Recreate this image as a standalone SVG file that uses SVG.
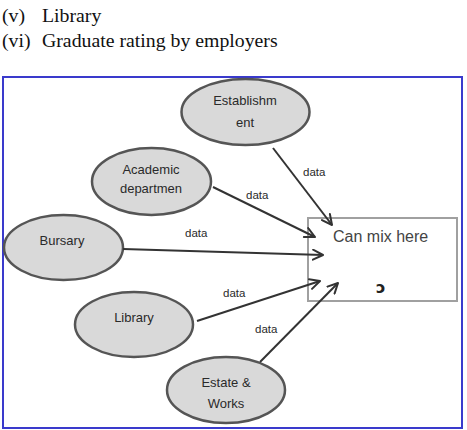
<svg xmlns="http://www.w3.org/2000/svg" width="467" height="430" viewBox="0 0 467 430">
<defs>
<marker id="arr" viewBox="0 0 12 12" refX="11" refY="6" markerWidth="12" markerHeight="12" markerUnits="userSpaceOnUse" orient="auto">
<path d="M1,1 L11,6 L1,11" fill="none" stroke="#333" stroke-width="2" stroke-linecap="round" stroke-linejoin="round"/>
</marker>
</defs>
<style>
.hdr{font-family:"Liberation Serif","Times New Roman",serif;font-size:19.8px;fill:#111}
.node{fill:#d9d9d9;stroke:#555;stroke-width:2.5}
.lbl{font-family:"Liberation Sans",Arial,sans-serif;font-size:13px;fill:#2a2a2a;text-anchor:middle}
.dl{font-family:"Liberation Sans",Arial,sans-serif;font-size:11.5px;fill:#2a2a2a}
.con{stroke:#333;stroke-width:2;fill:none;marker-end:url(#arr)}
.box{fill:#fff;stroke:#a0a0a0;stroke-width:2}
</style>
<rect width="467" height="430" fill="#fff"/>
<text class="hdr" x="2" y="22">(v)</text>
<text class="hdr" x="42" y="22">Library</text>
<text class="hdr" x="2" y="47">(vi)</text>
<text class="hdr" x="42" y="47">Graduate rating by employers</text>
<rect x="3" y="77" width="459" height="351" fill="#fff" stroke="#3a3acc" stroke-width="2"/>
<g id="box">
<rect class="box" x="308" y="218" width="149" height="83"/>
<text x="333" y="242" font-family="'Liberation Sans',Arial,sans-serif" font-size="16" fill="#444">Can mix here</text>
<text x="376" y="293" font-family="'DejaVu Sans',sans-serif" font-size="16" font-weight="bold" fill="#222">ɔ</text>
</g>
<g id="establishment">
<ellipse class="node" cx="245.5" cy="112" rx="64" ry="33"/>
<text class="lbl" x="245" y="105">Establishm</text>
<text class="lbl" x="245" y="127" font-size="11">ent</text>
</g>
<g id="academic">
<ellipse class="node" cx="151.5" cy="181.5" rx="59.5" ry="33.5"/>
<text class="lbl" x="151" y="174">Academic</text>
<text class="lbl" x="151" y="193">departmen</text>
</g>
<g id="bursary">
<ellipse class="node" cx="63.5" cy="247.5" rx="59.5" ry="32.5"/>
<text class="lbl" x="62" y="245" font-size="14">Bursary</text>
</g>
<g id="library">
<ellipse class="node" cx="134" cy="324.5" rx="59" ry="32.5"/>
<text class="lbl" x="134" y="322">Library</text>
</g>
<g id="estate">
<ellipse class="node" cx="226" cy="390" rx="59" ry="33"/>
<text class="lbl" x="226" y="387">Estate &amp;</text>
<text class="lbl" x="226" y="408">Works</text>
</g>
<g id="connectors">
<line class="con" x1="273" y1="148" x2="332" y2="225"/>
<line class="con" x1="213" y1="187" x2="315" y2="237"/>
<line class="con" x1="123" y1="249" x2="323" y2="255"/>
<line class="con" x1="197" y1="321" x2="320" y2="281"/>
<line class="con" x1="260" y1="362" x2="338" y2="283"/>
<text class="dl" x="303" y="176">data</text>
<text class="dl" x="246" y="199">data</text>
<text class="dl" x="185" y="237">data</text>
<text class="dl" x="223" y="297">data</text>
<text class="dl" x="255" y="333">data</text>
</g>
</svg>
